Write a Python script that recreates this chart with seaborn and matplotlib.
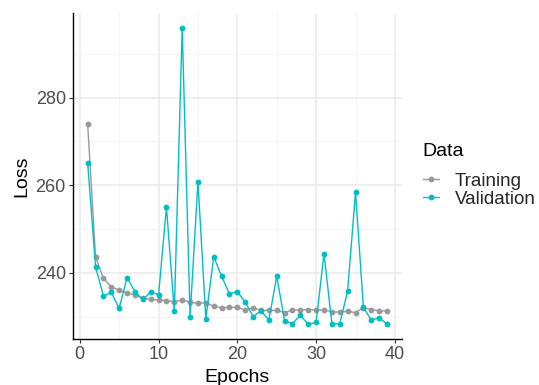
import numpy as np
import pandas as pd
import matplotlib
matplotlib.use("Agg")
import matplotlib.pyplot as plt
from matplotlib.ticker import MultipleLocator
import seaborn as sns

epochs = list(range(1, 40))

training_loss = [
    273.9, 243.7, 238.7, 236.8, 236.0, 235.4, 234.9, 234.2, 233.9, 233.8,
    233.6, 233.4, 233.8, 233.3, 233.0, 233.2, 232.3, 232.0, 232.1, 232.1,
    231.5, 232.0, 231.4, 231.4, 231.4, 230.9, 231.5, 231.5, 231.6, 231.5,
    231.5, 231.1, 231.0, 231.2, 230.9, 232.0, 231.6, 231.3, 231.3,
]

validation_loss = [
    265.1, 241.4, 234.7, 235.5, 231.9, 238.9, 235.7, 233.9, 235.6, 235.0,
    255.0, 231.2, 296.0, 230.0, 260.8, 229.5, 243.7, 239.2, 235.2, 235.7,
    233.3, 230.0, 231.3, 229.2, 239.2, 229.0, 228.4, 230.3, 228.2, 228.7,
    244.4, 228.4, 228.3, 235.9, 258.4, 232.1, 229.2, 229.7, 228.3,
]

series_names = ["Training", "Validation"]
series_colors = ["#999999", "#00BFC4"]
legend_title = "Data"

df = pd.DataFrame({
    "Epochs": epochs * 2,
    "Loss": training_loss + validation_loss,
    "Data": [series_names[0]] * len(epochs) + [series_names[1]] * len(epochs),
})

sns.set_theme(style="white")
plt.rcParams["font.family"] = ["Liberation Sans", "DejaVu Sans"]

W, H = 539, 385
fig = plt.figure(figsize=(W / 100, H / 100), dpi=100)
left, right, top, bottom = 72.7, 402.0, 12.8, 339.3
ax = fig.add_axes([left / W, 1 - bottom / H, (right - left) / W, (bottom - top) / H])

sns.lineplot(
    data=df, x="Epochs", y="Loss", hue="Data",
    palette=dict(zip(series_names, series_colors)),
    marker="o", markersize=4.2, markeredgewidth=0, linewidth=1.0,
    ax=ax, legend=False, zorder=3,
)

ax.set_xlim(-0.9, 40.9)
ax.set_ylim(224.8, 299.4)
ax.xaxis.set_major_locator(MultipleLocator(10))
ax.xaxis.set_minor_locator(MultipleLocator(5))
ax.yaxis.set_major_locator(MultipleLocator(20))
ax.yaxis.set_minor_locator(MultipleLocator(10))

ax.grid(which="major", color="#EBEBEB", linewidth=1.1)
ax.grid(which="minor", color="#F2F2F2", linewidth=0.6)
ax.set_axisbelow(True)

for side in ["top", "right"]:
    ax.spines[side].set_visible(False)
for side in ["left", "bottom"]:
    ax.spines[side].set_visible(True)
    ax.spines[side].set_color("black")
    ax.spines[side].set_linewidth(1.0)

ax.tick_params(which="major", length=3, width=0.8, color="#333333",
               labelsize=13, labelcolor="#4D4D4D", pad=2, left=True, bottom=True)
ax.tick_params(which="minor", length=0)

ax.set_xlabel("Epochs", fontsize=14, color="black", labelpad=4)
ax.set_ylabel("Loss", fontsize=14, color="black", labelpad=4)

# legend: title placed separately to leave a wider gap above the keys
fig.text(422.5 / W, 1 - 152 / H, legend_title, fontsize=14, color="black",
         ha="left", va="center")
handles = [
    plt.Line2D([], [], color=c, marker="o", markersize=4.2, markeredgewidth=0, linewidth=1.0)
    for c in series_colors
]
leg = fig.legend(
    handles, series_names,
    loc="upper left", bbox_to_anchor=(422.5 / W, 1 - 172.5 / H),
    frameon=False, fontsize=13.5,
    handlelength=0.9, handletextpad=0.82, labelspacing=0.06,
    borderpad=0, borderaxespad=0,
)

fig.savefig("out.png", dpi=100)
